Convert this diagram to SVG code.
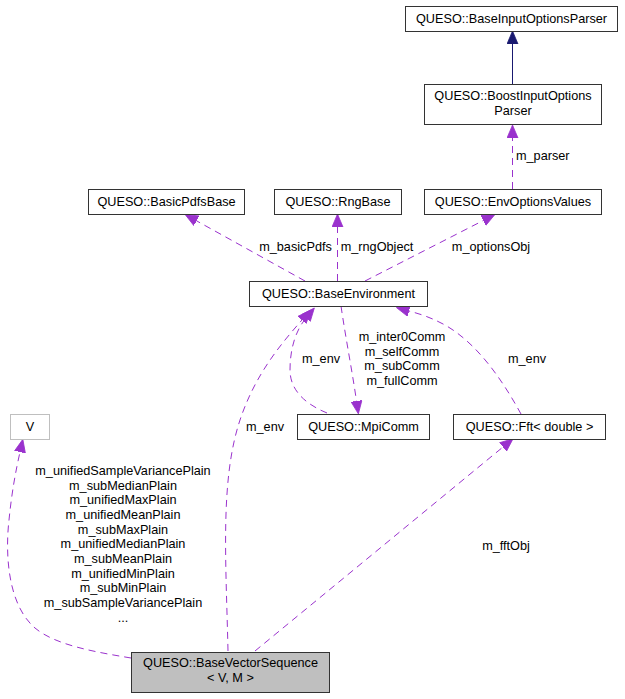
<svg xmlns="http://www.w3.org/2000/svg" width="625" height="699" viewBox="0 0 625 699">
<style>
text{font-family:"Liberation Sans",Arial,sans-serif;font-size:12.7px;fill:#000;text-anchor:middle}
.box{fill:#fff;stroke:#333;stroke-width:1}
.root{fill:#bfbfbf;stroke:#333;stroke-width:1}
.ext{fill:#fff;stroke:#bfbfbf;stroke-width:1}
.e{fill:none;stroke:#9a32cd;stroke-width:1;stroke-dasharray:7,5;marker-end:url(#ap)}
.inh{fill:none;stroke:#191970;stroke-width:1;marker-end:url(#an)}
.lft{text-anchor:start}
</style>
<defs>
<marker id="ap" markerUnits="userSpaceOnUse" markerWidth="14" markerHeight="12" viewBox="0 0 14 12" refX="0" refY="6" orient="auto"><path d="M0,0.5 L13,6 L0,11.5 z" fill="#9a32cd" stroke="#9a32cd" stroke-width="0.8"/></marker>
<marker id="an" markerUnits="userSpaceOnUse" markerWidth="14" markerHeight="12" viewBox="0 0 14 12" refX="0" refY="6" orient="auto"><path d="M0,0.5 L13,6 L0,11.5 z" fill="#191970" stroke="#191970" stroke-width="0.8"/></marker>
</defs>
<rect width="625" height="699" fill="#fff"/>
<g id="connectors">
<path class="inh" d="M512.5,84 L512.5,44"/>
<path class="e" d="M512.5,189 L512.5,138"/>
<path class="e" d="M305,281 L196.5,220.8"/>
<path class="e" d="M337.5,281 L337.5,227"/>
<path class="e" d="M365,281 L483.3,220.5"/>
<path class="e" d="M341,306 C346,340 352,370 356.5,401"/>
<path class="e" d="M327,413 C305,404 290,390 290,370 C290,348 296,330 306,318"/>
<path class="e" d="M521,414 C505,385 480,345 445,325 C430,317 420,314 409,311"/>
<path class="e" d="M228,651 C226,560 220,480 240,420 C255,375 280,345 302,320"/>
<path class="e" d="M131,658 C95,652 55,645 35,628 C8,605 5,555 9,520 C12,490 16,470 20,452"/>
<path class="e" d="M255,651 L503,447"/>
<text class="lft" x="516" y="160">m_parser</text>
<text x="295.5" y="251">m_basicPdfs</text>
<text x="377" y="251">m_rngObject</text>
<text x="491" y="251">m_optionsObj</text>
<text x="402" y="341">m_inter0Comm</text>
<text x="402" y="355.6">m_selfComm</text>
<text x="402" y="370.2">m_subComm</text>
<text x="402" y="384.8">m_fullComm</text>
<text x="321" y="363">m_env</text>
<text x="527" y="363">m_env</text>
<text x="265" y="430.5">m_env</text>
<text x="506" y="549.5">m_fftObj</text>
<text x="123" y="475">m_unifiedSampleVariancePlain</text>
<text x="123" y="489.7">m_subMedianPlain</text>
<text x="123" y="504.3">m_unifiedMaxPlain</text>
<text x="123" y="519">m_unifiedMeanPlain</text>
<text x="123" y="533.7">m_subMaxPlain</text>
<text x="123" y="548.3">m_unifiedMedianPlain</text>
<text x="123" y="563">m_subMeanPlain</text>
<text x="123" y="577.7">m_unifiedMinPlain</text>
<text x="123" y="592.3">m_subMinPlain</text>
<text x="123" y="607">m_subSampleVariancePlain</text>
<text x="123" y="621.7">...</text>
</g>
<g id="BaseInputOptionsParser"><rect class="box" x="405.5" y="6.5" width="212" height="25"/><text x="511.5" y="23">QUESO::BaseInputOptionsParser</text></g>
<g id="BoostInputOptionsParser"><rect class="box" x="424.5" y="84.5" width="177" height="40"/><text x="513" y="100">QUESO::BoostInputOptions</text><text x="513" y="115">Parser</text></g>
<g id="BasicPdfsBase"><rect class="box" x="88.5" y="189.5" width="156" height="25"/><text x="166.5" y="206">QUESO::BasicPdfsBase</text></g>
<g id="RngBase"><rect class="box" x="274.5" y="189.5" width="127" height="25"/><text x="338" y="206">QUESO::RngBase</text></g>
<g id="EnvOptionsValues"><rect class="box" x="424.5" y="189.5" width="177" height="25"/><text x="513" y="206">QUESO::EnvOptionsValues</text></g>
<g id="BaseEnvironment"><rect class="box" x="249.5" y="281.5" width="178" height="25"/><text x="338.5" y="298">QUESO::BaseEnvironment</text></g>
<g id="V"><rect class="ext" x="10.5" y="414.5" width="39" height="25"/><text x="30" y="431">V</text></g>
<g id="MpiComm"><rect class="box" x="297.5" y="414.5" width="132" height="25"/><text x="363.5" y="431">QUESO::MpiComm</text></g>
<g id="Fft"><rect class="box" x="453.5" y="414.5" width="152" height="25"/><text x="529.5" y="431">QUESO::Fft&lt; double &gt;</text></g>
<g id="BaseVectorSequence"><rect class="root" x="131.5" y="652.5" width="198" height="40"/><text x="230.5" y="667">QUESO::BaseVectorSequence</text><text x="230.5" y="682">&lt; V, M &gt;</text></g>
</svg>
